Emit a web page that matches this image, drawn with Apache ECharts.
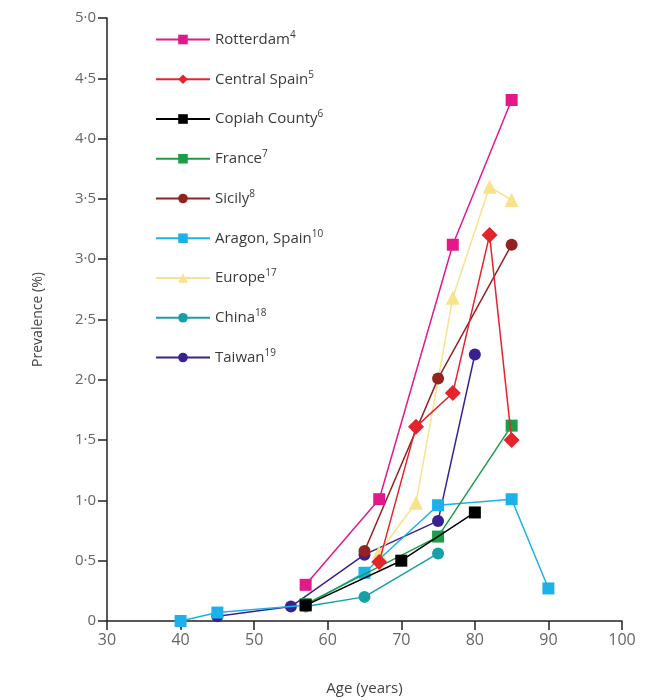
<!DOCTYPE html>
<html>
<head>
<meta charset="utf-8">
<script src="https://cdn.jsdelivr.net/npm/echarts@6/dist/echarts.min.js"></script>
<style>
    html, body { margin: 0; padding: 0; background: #fff; }
    #chart { width: 648px; height: 700px; }
</style>
</head>
<body>
<div id="chart"></div>
<script>
// 各研究的数据 [年龄, 患病率%]
const rotterdam = [[57, 0.30], [67, 1.01], [77, 3.12], [85, 4.32]];
const centralSpain = [[67, 0.49], [72, 1.61], [77, 1.89], [82, 3.20], [85, 1.50]];
const copiahCounty = [[57, 0.13], [70, 0.50], [80, 0.90]];
const france = [[57, 0.14], [75, 0.70], [85, 1.62]];
const sicily = [[65, 0.58], [75, 2.01], [85, 3.12]];
const aragonSpain = [[40, 0.00], [45, 0.07], [57, 0.13], [65, 0.40], [75, 0.96], [85, 1.01], [90, 0.27]];
const europe = [[67, 0.57], [72, 0.98], [77, 2.68], [82, 3.60], [85, 3.49]];
const china = [[57, 0.12], [65, 0.20], [75, 0.56]];
const taiwan = [[45, 0.04], [55, 0.12], [65, 0.55], [75, 0.83], [80, 2.21]];

const seriesNames = ['Rotterdam', 'Central Spain', 'Copiah County', 'France', 'Sicily', 'Aragon, Spain', 'Europe', 'China', 'Taiwan'];
const seriesRefs = ['4', '5', '6', '7', '8', '10', '17', '18', '19'];
const seriesData = [rotterdam, centralSpain, copiahCounty, france, sicily, aragonSpain, europe, china, taiwan];
const seriesSymbols = ['rect', 'diamond', 'rect', 'rect', 'circle', 'rect', 'triangle', 'circle', 'circle'];
const seriesColors = ['#e3198a', '#e5232b', '#000000', '#1c9e48', '#922323', '#1cb1e9', '#f8e28c', '#17a0a6', '#3a2190'];

const yTicks = [0, 0.5, 1, 1.5, 2, 2.5, 3, 3.5, 4, 4.5, 5];

const fontFamily = '"Open Sans", "Noto Sans", sans-serif';

const chart = echarts.init(document.getElementById('chart'));

const series = seriesNames.map((name, i) => ({
    name: name,
    type: 'line',
    data: seriesData[i],
    symbol: seriesSymbols[i],
    symbolSize: seriesSymbols[i] === 'diamond' ? 16 : (seriesSymbols[i] === 'triangle' ? 14 : 12),
    showAllSymbol: true,
    lineStyle: { width: 1.5, color: seriesColors[i] },
    itemStyle: { color: seriesColors[i] },
    z: 10 - i
}));

chart.setOption({
    animation: false,
    textStyle: { fontFamily: fontFamily },
    grid: {
        left: 107,
        right: 26,
        top: 18,
        bottom: 79,
        outerBoundsMode: 'none'
    },
    legend: {
        orient: 'vertical',
        left: 150,
        top: 25,
        itemWidth: 54,
        itemHeight: 12,
        itemGap: 22.75,
        data: seriesNames,
        formatter: name => `{t|${name}}{sup|${seriesRefs[seriesNames.indexOf(name)]}}`,
        textStyle: {
            fontFamily: fontFamily,
            rich: {
                t: { fontSize: 15, color: '#3a3a3a', fontFamily: fontFamily },
                sup: { fontSize: 10, color: '#3a3a3a', verticalAlign: 'top', padding: [0, 0, 9, 0], fontFamily: fontFamily }
            }
        }
    },
    xAxis: {
        type: 'value',
        min: 30,
        max: 100,
        interval: 10,
        name: 'Age (years)',
        nameLocation: 'middle',
        nameGap: 60,
        nameTextStyle: { color: '#444', fontSize: 15 },
        axisLine: { onZero: false, lineStyle: { color: '#222', width: 1.5 } },
        axisTick: { show: true, length: 9, lineStyle: { color: '#222', width: 1.5 } },
        axisLabel: { color: '#666', fontSize: 16, margin: 11 },
        splitLine: { show: false }
    },
    yAxis: {
        type: 'value',
        min: 0,
        max: 5,
        interval: 0.5,
        name: 'Prevalence (%)',
        nameLocation: 'middle',
        nameGap: 62,
        nameRotate: 90,
        nameTextStyle: { color: '#444', fontSize: 14 },
        axisLine: { show: true, lineStyle: { color: '#222', width: 1.5 } },
        axisTick: { show: true, length: 9, lineStyle: { color: '#222', width: 1.5 } },
        axisLabel: {
            color: '#666',
            fontSize: 15,
            margin: 11,
            formatter: v => yTicks.indexOf(v) === 0 ? '0' : v.toFixed(1).replace('.', '·')
        },
        splitLine: { show: false }
    },
    series: series
});
</script>
</body>
</html>
